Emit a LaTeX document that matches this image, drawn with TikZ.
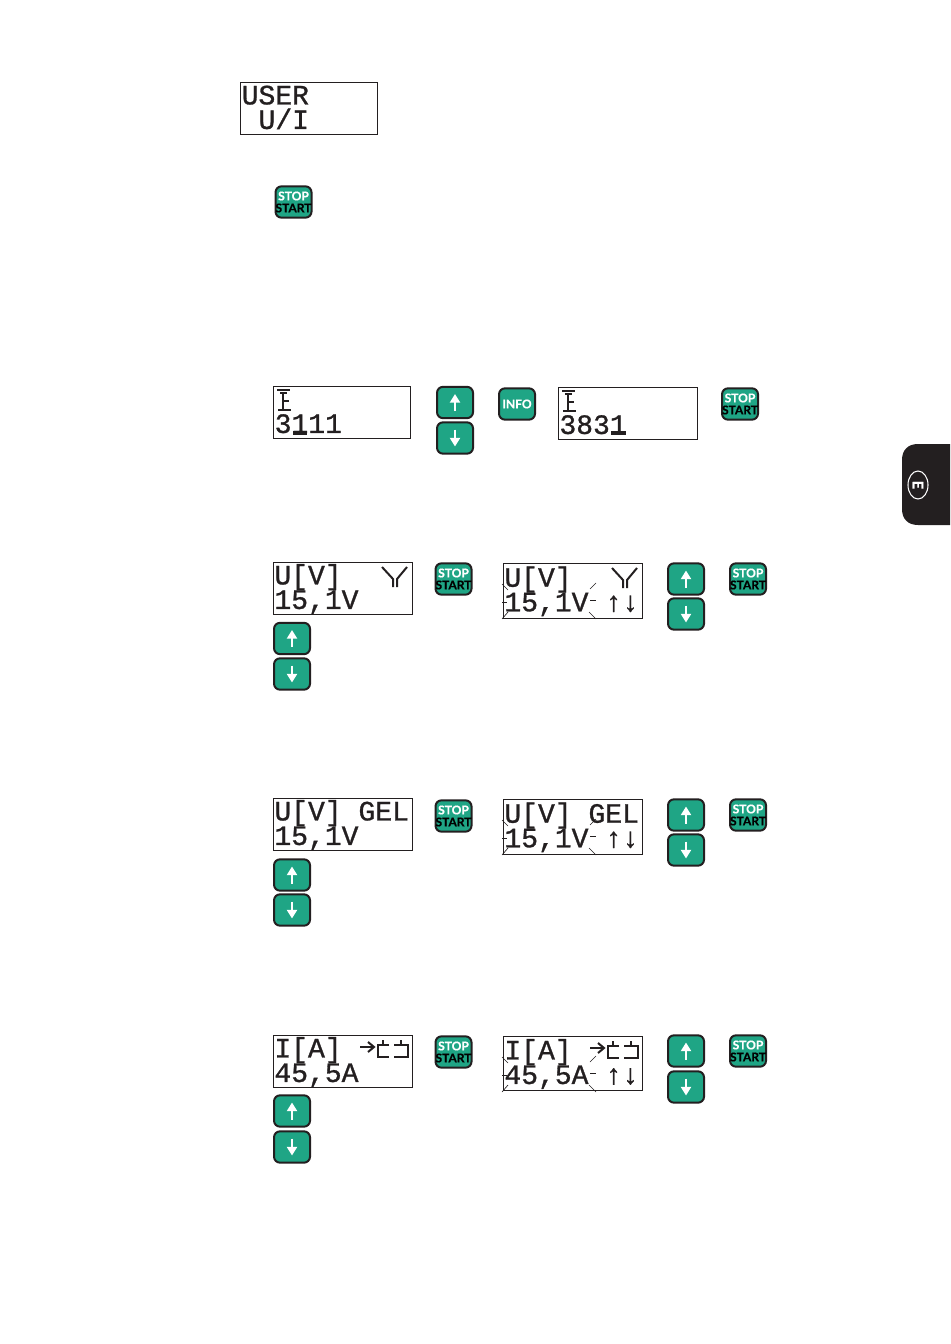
\documentclass[tikz,border=0pt]{standalone}
\usepackage{fontspec}
\setmainfont{Lato}[BoldFeatures={FakeBold=0.6}]
\newfontfamily\lcdfont[FakeBold=1]{Liberation Mono}
\usetikzlibrary{arrows.meta,shapes.geometric}
\definecolor{keygreen}{HTML}{1FA585}
\definecolor{keydark}{HTML}{231F20}
\tikzset{every picture/.style={line width=0.75pt}}
\tikzset{
  lcdbox/.style={draw=keydark,line width=0.6pt,anchor=north west,inner xsep=0.8pt,inner ysep=0pt,
    minimum width=103pt,minimum height=39pt,text width=101pt,text height=16.5pt,text depth=22.5pt,
    align=left,keydark,font=\lcdfont\fontsize{21}{18.4}\selectfont},
  lcdwide/.style={lcdbox,text width=102.4pt,minimum width=104pt},
  keybox/.style={draw=keydark,fill=keygreen,line width=1.5pt,rounded corners=4.5pt,inner sep=0pt,
    minimum width=27pt,minimum height=23.5pt,align=center,
    font=\bfseries\fontsize{9}{9}\selectfont},
  keyarrow/.style={white,line width=2pt,-{Triangle[width=7.5pt,length=6.5pt,fill=white]}},
  lcdglyph/.style={keydark,line width=1.5pt},
  blinktick/.style={keydark,line width=0.5pt},
}
\newcommand{\stoplabel}{\textcolor{white}{STOP}\\\textcolor{black}{START}}
\newcommand{\lcdgap}{\hphantom{0}}
% small marks inside a display
\newcommand{\blinkticks}[1]{%
  \begin{scope}[shift={(#1.north west)}]
    \draw[blinktick] (-1,21) -- (5,27);
    \draw[blinktick] (-1,39) -- (4,39);
    \draw[blinktick] (-1,56) -- (5,49);
    \draw[blinktick] (87,26) -- (93,20);
    \draw[blinktick] (87,37) -- (93,37);
    \draw[blinktick] (86,49) -- (93,56);
  \end{scope}}
\newcommand{\forkglyph}[1]{%
  \begin{scope}[shift={(#1.north west)}]
    \draw[lcdglyph] (109,5) -- (120,17) -- (120,25);
    \draw[lcdglyph] (134,5) -- (124,17) -- (124,25);
  \end{scope}}
\newcommand{\lockglyph}[1]{%
  \begin{scope}[shift={(#1.north west)}]
    \draw[lcdglyph] (4,4) -- (17,4);
    \draw[lcdglyph] (7,7) -- (14,7);
    \draw[lcdglyph] (9.5,7) -- (9.5,23);
    \draw[lcdglyph] (5,23.5) -- (18,23.5);
    \draw[lcdglyph] (9.5,15) -- (16,15);
  \end{scope}}
\newcommand{\chargeglyph}[1]{%
  \begin{scope}[shift={(#1.north west)}]
    \draw[lcdglyph] (87,12) -- (101,12);
    \draw[lcdglyph] (95,7) -- (101,12) -- (95,17);
    \draw[lcdglyph] (116,10) -- (105,10) -- (105,22) -- (116,22);
    \draw[lcdglyph] (110,5) -- (110,10);
    \draw[lcdglyph] (121,10) -- (135,10) -- (135,22) -- (121,22);
    \draw[lcdglyph] (128,5) -- (128,10);
  \end{scope}}

\begin{document}
\begin{tikzpicture}[x=0.75pt,y=0.75pt,yscale=-1,xscale=1]
\useasboundingbox (0,0) rectangle (950,1344);
% Displays
\node[lcdbox] (userlcd) at (240,82) {USER\\\lcdgap U/I};
\node[lcdbox] (codeleft) at (273,386) {~\\3111};
\node[lcdwide] (coderight) at (558,387) {~\\3831};
\node[lcdwide] (forkleft) at (273,562) {U[V]\\15,1V};
\node[lcdwide,minimum height=41pt] (forkright) at (503,563) {U[V]\\15,1V\lcdgap ↑↓};
\node[lcdwide] (gelleft) at (273,798) {U[V]\lcdgap GEL\\15,1V};
\node[lcdwide,minimum height=41pt] (gelright) at (503,799) {U[V]\lcdgap GEL\\15,1V\lcdgap ↑↓};
\node[lcdwide] (ampleft) at (273,1035) {I[A]\\45,5A};
\node[lcdwide,minimum height=40.5pt] (ampright) at (503,1036) {I[A]\\45,5A\lcdgap ↑↓};
% Display marks
\lockglyph{codeleft}
\lockglyph{coderight}
\fill[keydark] (293,431) rectangle (307,435);
\fill[keydark] (611,431) rectangle (626,435);
\forkglyph{forkleft}
\forkglyph{forkright}
\chargeglyph{ampleft}
\chargeglyph{ampright}
\blinkticks{forkright}
\blinkticks{gelright}
\blinkticks{ampright}
% Keys
\foreach \kn/\kx/\ky in {a/293.5/202,b/740/404,c/453.5/579,d/748/579,e/453.5/816,f/748/815,g/453.5/1052,h/748/1051}
  \node[keybox] (stop\kn) at (\kx,\ky) {\stoplabel};
\node[keybox,text=white] (infokey) at (517,404) {INFO};
\foreach \kn/\kx/\ky in {a/455/402.5,b/292/638.5,c/686/579,d/292/875,e/686/815,f/292/1111,g/686/1051}{
  \node[keybox] (up\kn) at (\kx,\ky) {};
  \draw[keyarrow] (\kx,\ky+8.5) -- (\kx,\ky-8.5);
}
\foreach \kn/\kx/\ky in {a/455/438,b/292/674,c/686/614,d/292/910,e/686/850,f/292/1147,g/686/1087}{
  \node[keybox] (down\kn) at (\kx,\ky) {};
  \draw[keyarrow] (\kx,\ky-8.5) -- (\kx,\ky+8.5);
}
% Side tab
\fill[keydark] (950,444) -- (918,444) .. controls (908,444) and (902,450) .. (902,460) -- (902,509) .. controls (902,519) and (908,525) .. (918,525) -- (950,525) -- cycle;
\node[draw=white,line width=0.8pt,ellipse,minimum width=15pt,minimum height=21pt,inner sep=0pt] (tabring) at (918,485) {};
\node[text=white,rotate=-90,font=\bfseries\fontsize{11}{11}\selectfont,inner sep=0pt] (tabletter) at (918,485) {E};
\end{tikzpicture}
\end{document}
